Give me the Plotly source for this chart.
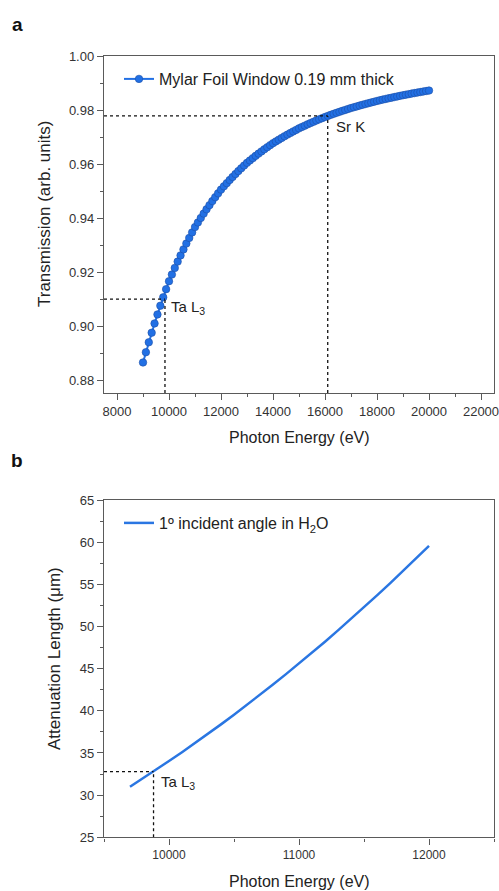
import plotly.graph_objects as go

# ---- panel a: transmission of the Mylar window ----
mylar_energy_ev = [
    9000, 9111, 9222, 9333, 9444, 9556, 9667, 9778, 9889,
    10000, 10111, 10222, 10333, 10444, 10556, 10667, 10778, 10889,
    11000, 11111, 11222, 11333, 11444, 11556, 11667, 11778, 11889,
    12000, 12111, 12222, 12333, 12444, 12556, 12667, 12778, 12889,
    13000, 13111, 13222, 13333, 13444, 13556, 13667, 13778, 13889,
    14000, 14111, 14222, 14333, 14444, 14556, 14667, 14778, 14889,
    15000, 15111, 15222, 15333, 15444, 15556, 15667, 15778, 15889,
    16000, 16111, 16222, 16333, 16444, 16556, 16667, 16778, 16889,
    17000, 17111, 17222, 17333, 17444, 17556, 17667, 17778, 17889,
    18000, 18111, 18222, 18333, 18444, 18556, 18667, 18778, 18889,
    19000, 19111, 19222, 19333, 19444, 19556, 19667, 19778, 19889,
    20000,
]
mylar_transmission = [
    0.88651, 0.89030, 0.89397, 0.89752, 0.90096, 0.90429, 0.90752, 0.91064, 0.91366,
    0.91659, 0.91908, 0.92151, 0.92387, 0.92615, 0.92838, 0.93054, 0.93263, 0.93467,
    0.93664, 0.93835, 0.94002, 0.94164, 0.94322, 0.94476, 0.94626, 0.94772, 0.94913,
    0.95052, 0.95173, 0.95291, 0.95407, 0.95519, 0.95629, 0.95737, 0.95841, 0.95943,
    0.96043, 0.96132, 0.96218, 0.96302, 0.96385, 0.96466, 0.96545, 0.96622, 0.96698,
    0.96772, 0.96838, 0.96902, 0.96966, 0.97028, 0.97089, 0.97148, 0.97207, 0.97264,
    0.97320, 0.97371, 0.97420, 0.97469, 0.97516, 0.97563, 0.97609, 0.97654, 0.97698,
    0.97742, 0.97781, 0.97820, 0.97858, 0.97895, 0.97931, 0.97968, 0.98003, 0.98038,
    0.98072, 0.98103, 0.98134, 0.98164, 0.98193, 0.98223, 0.98251, 0.98280, 0.98307,
    0.98335, 0.98360, 0.98385, 0.98409, 0.98433, 0.98456, 0.98480, 0.98502, 0.98525,
    0.98547, 0.98568, 0.98588, 0.98608, 0.98627, 0.98646, 0.98665, 0.98684, 0.98703,
    0.98721,
]
# absorption-edge guide lines (energy, transmission)
ta_l3_a = (9845, 0.9100)
sr_k_a = (16105, 0.9778)

# ---- panel b: attenuation length in water at 1 degree incidence ----
water_energy_ev = [
    9700, 9800, 9900, 10000, 10100, 10200, 10300, 10400, 10500, 10600, 10700, 10800,
    10900, 11000, 11100, 11200, 11300, 11400, 11500, 11600, 11700, 11800, 11900, 12000,
]
water_atten_um = [
    31.00, 31.99, 33.00, 34.04, 35.09, 36.17, 37.27, 38.39, 39.54, 40.71, 41.90, 43.11,
    44.35, 45.61, 46.89, 48.20, 49.54, 50.89, 52.28, 53.69, 55.12, 56.58, 58.06, 59.57,
]
ta_l3_b = (9881, 32.8)

xrange_a = [7500, 22500]
yrange_a = [0.8752, 1.0]
xrange_b = [9500, 12500]
yrange_b = [25, 65]

W, H = 499, 891
FONT = "Liberation Sans, Arial, sans-serif"
BLUE = "#2270e4"
EDGE = "#1d4fa6"
LINE_B = "#2a76e2"
AX = "#5a5a5a"


def fx(px):
    return px / W


def fy(px):
    return 1 - px / H


fig = go.Figure()
fig.add_trace(go.Scatter(
    x=mylar_energy_ev, y=mylar_transmission, mode="lines+markers",
    name="Mylar Foil Window 0.19 mm thick",
    line=dict(color=BLUE, width=2),
    marker=dict(symbol="circle", size=7.5, color=BLUE, line=dict(color=EDGE, width=0.6)),
    xaxis="x", yaxis="y", legend="legend",
))
fig.add_trace(go.Scatter(
    x=water_energy_ev, y=water_atten_um, mode="lines",
    name="1º incident angle in H<sub>2</sub>O",
    line=dict(color=LINE_B, width=2.5),
    xaxis="x2", yaxis="y2", legend="legend2",
))


def axis(**kw):
    base = dict(
        showline=True, linecolor=AX, linewidth=1.4, mirror=True,
        ticks="outside", ticklen=6, tickwidth=1.3, tickcolor=AX,
        showgrid=False, zeroline=False, automargin=False,
        ticklabeloverflow="allow",
        tickfont=dict(family=FONT, size=13, color="#333"),
    )
    base.update(kw)
    return base


def minor(step):
    return dict(ticks="outside", ticklen=3, tickwidth=1.2, tickcolor=AX,
                dtick=step, showgrid=False)


fig.update_layout(
    width=W, height=H, margin=dict(l=0, r=0, t=0, b=0),
    paper_bgcolor="white", plot_bgcolor="white",
    font=dict(family=FONT, color="#222"),
    xaxis=axis(domain=[fx(104), fx(494)], anchor="y", range=xrange_a,
               tick0=8000, dtick=2000, tickformat="d", minor=minor(1000)),
    yaxis=axis(domain=[fy(393), fy(56)], anchor="x", range=yrange_a,
               tick0=0.88, dtick=0.02, tickformat=".2f", minor=minor(0.01)),
    xaxis2=axis(domain=[fx(104), fx(494)], anchor="y2", range=xrange_b,
                tick0=10000, dtick=1000, tickformat="d", minor=minor(500),
                tickfont=dict(family=FONT, size=12, color="#333")),
    yaxis2=axis(domain=[fy(837.3), fy(500)], anchor="x2", range=yrange_b,
                tick0=25, dtick=5, minor=minor(2.5)),
    legend=dict(x=fx(119), y=fy(79), xanchor="left", yanchor="middle",
                bgcolor="rgba(0,0,0,0)", font=dict(family=FONT, size=16, color="#222")),
    legend2=dict(x=fx(119), y=fy(523), xanchor="left", yanchor="middle",
                 bgcolor="rgba(0,0,0,0)", font=dict(family=FONT, size=16, color="#222")),
    showlegend=True,
)

# dotted guide lines at the absorption edges
dot = dict(color="#111", width=1.3, dash="dot")
shapes = []
for (e, v), xr, yr, xa, ya in [
    (ta_l3_a, xrange_a, yrange_a, "x", "y"),
    (sr_k_a, xrange_a, yrange_a, "x", "y"),
    (ta_l3_b, xrange_b, yrange_b, "x2", "y2"),
]:
    shapes.append(dict(type="line", xref=xa, yref=ya, x0=xr[0], x1=e, y0=v, y1=v, line=dot))
    shapes.append(dict(type="line", xref=xa, yref=ya, x0=e, x1=e, y0=yr[0], y1=v, line=dot))
fig.update_layout(shapes=shapes)

ann = []
# edge labels
ann.append(dict(x=ta_l3_a[0], y=ta_l3_a[1], xref="x", yref="y", text="Ta L<sub>3</sub>",
                showarrow=False, xanchor="left", yanchor="middle", xshift=4, yshift=-8,
                font=dict(family=FONT, size=15, color="#222")))
ann.append(dict(x=sr_k_a[0], y=sr_k_a[1], xref="x", yref="y", text="Sr K",
                showarrow=False, xanchor="left", yanchor="middle", xshift=6, yshift=-11,
                font=dict(family=FONT, size=15, color="#222")))
ann.append(dict(x=ta_l3_b[0], y=ta_l3_b[1], xref="x2", yref="y2", text="Ta L<sub>3</sub>",
                showarrow=False, xanchor="left", yanchor="middle", xshift=5, yshift=-11,
                font=dict(family=FONT, size=15, color="#222")))
# panel letters
for letter, py in [("a", 25), ("b", 460)]:
    ann.append(dict(x=fx(17), y=fy(py), xref="paper", yref="paper", text=f"<b>{letter}</b>",
                    showarrow=False, xanchor="center", yanchor="middle",
                    font=dict(family=FONT, size=19, color="#111")))
# axis titles
for text, px, py in [("Photon Energy (eV)", 299, 437), ("Photon Energy (eV)", 299, 881)]:
    ann.append(dict(x=fx(px), y=fy(py), xref="paper", yref="paper", text=text,
                    showarrow=False, xanchor="center", yanchor="middle",
                    font=dict(family=FONT, size=16, color="#222")))
for text, px, py in [("Transmission (arb. units)", 44, 214),
                     ("Attenuation Length (μm)", 54, 659)]:
    ann.append(dict(x=fx(px), y=fy(py), xref="paper", yref="paper", text=text,
                    showarrow=False, textangle=-90, xanchor="center", yanchor="middle",
                    font=dict(family=FONT, size=17, color="#222")))
fig.update_layout(annotations=ann)

fig.write_html("out.html", include_plotlyjs=True, full_html=True,
               config={"displayModeBar": False})
